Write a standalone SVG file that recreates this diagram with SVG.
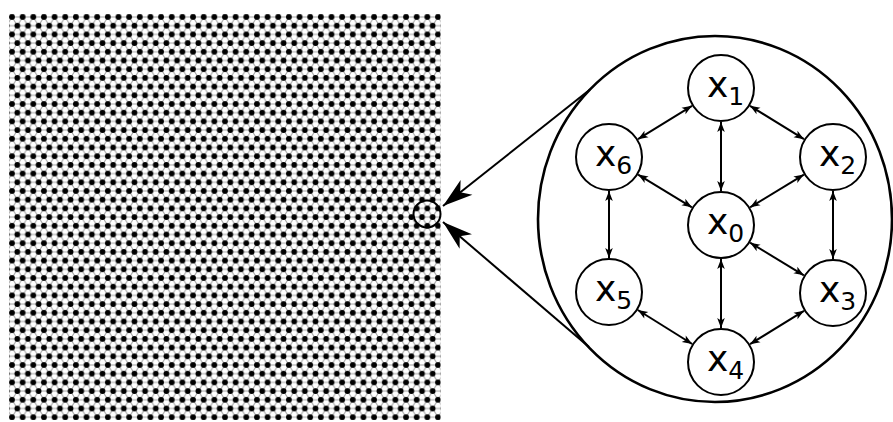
<svg xmlns="http://www.w3.org/2000/svg" width="893" height="422" viewBox="0 0 893 422">
  <defs>
    <pattern id="lat" x="12" y="17" width="10.65" height="17.4" patternUnits="userSpaceOnUse">
      <g stroke="#a0a0a0" stroke-width="1">
        <line x1="0" y1="0" x2="10.65" y2="0"/>
        <line x1="0" y1="8.7" x2="10.65" y2="8.7"/>
        <line x1="0" y1="17.4" x2="10.65" y2="17.4"/>
        <line x1="0" y1="0" x2="5.325" y2="8.7"/>
        <line x1="10.65" y1="0" x2="5.325" y2="8.7"/>
        <line x1="5.325" y1="8.7" x2="0" y2="17.4"/>
        <line x1="5.325" y1="8.7" x2="10.65" y2="17.4"/>
      </g>
      <g fill="#000">
        <circle cx="0" cy="0" r="2.9"/>
        <circle cx="10.65" cy="0" r="2.9"/>
        <circle cx="5.325" cy="8.7" r="2.9"/>
        <circle cx="0" cy="17.4" r="2.9"/>
        <circle cx="10.65" cy="17.4" r="2.9"/>
      </g>
    </pattern>
    <marker id="big" viewBox="-32 -11 34 22" refX="0" refY="0" markerWidth="34" markerHeight="22" markerUnits="userSpaceOnUse" orient="auto">
      <path d="M0,0 L-30,-9.5 L-22,0 L-30,9.5 Z" fill="#000"/>
    </marker>
    <marker id="sm" viewBox="-11 -5 12 10" refX="0" refY="0" markerWidth="12" markerHeight="10" markerUnits="userSpaceOnUse" orient="auto-start-reverse">
      <path d="M0,0 L-10,-3.8 L-7.5,0 L-10,3.8 Z" fill="#000"/>
    </marker>
    <style>
      .node circle { fill: #fff; stroke: #000; stroke-width: 2; }
      .node text { font-family: "DejaVu Sans", sans-serif; font-size: 36px; fill: #000; }
      .node tspan.s { font-size: 25px; }
      .edge { stroke: #000; stroke-width: 2; fill: none; marker-start: url(#sm); marker-end: url(#sm); }
      .zoom { stroke: #000; stroke-width: 2; fill: none; marker-end: url(#big); }
    </style>
  </defs>
  <rect width="893" height="422" fill="#fff"/>

  <g id="lattice">
    <rect x="9" y="14" width="431.6" height="406" fill="url(#lat)"/>
    <circle cx="427" cy="214" r="13.5" fill="none" stroke="#000" stroke-width="2"/>
  </g>

  <g id="magnifier">
    <ellipse cx="715" cy="219" rx="177" ry="183" fill="none" stroke="#000" stroke-width="2.6"/>
  </g>

  <g id="connectors">
    <line class="zoom" x1="590" y1="89.5" x2="443" y2="206"/>
    <line class="zoom" x1="589" y1="347" x2="443" y2="222"/>
    <line class="edge" x1="721" y1="122" x2="721" y2="191"/>
    <line class="edge" x1="721" y1="259" x2="721" y2="328"/>
    <line class="edge" x1="609" y1="191" x2="609" y2="258"/>
    <line class="edge" x1="833" y1="191" x2="833" y2="259"/>
    <line class="edge" x1="692" y1="105.8" x2="638" y2="139.2"/>
    <line class="edge" x1="750" y1="105.8" x2="804" y2="139.2"/>
    <line class="edge" x1="638.1" y1="174.6" x2="691.9" y2="207.3"/>
    <line class="edge" x1="803.9" y1="174.6" x2="750.1" y2="207.3"/>
    <line class="edge" x1="750.1" y1="242.7" x2="803.9" y2="275.3"/>
    <line class="edge" x1="637.8" y1="310" x2="692.2" y2="344"/>
    <line class="edge" x1="804" y1="310.8" x2="750" y2="344.2"/>
  </g>

  <g id="x0" class="node"><circle cx="721" cy="225" r="33"/><text x="707" y="234">x<tspan class="s" dy="8">0</tspan></text></g>
  <g id="x1" class="node"><circle cx="721" cy="88" r="33"/><text x="707" y="97">x<tspan class="s" dy="8">1</tspan></text></g>
  <g id="x2" class="node"><circle cx="833" cy="157" r="33"/><text x="819" y="166">x<tspan class="s" dy="8">2</tspan></text></g>
  <g id="x3" class="node"><circle cx="833" cy="293" r="33"/><text x="819" y="302">x<tspan class="s" dy="8">3</tspan></text></g>
  <g id="x4" class="node"><circle cx="721" cy="362" r="33"/><text x="707" y="371">x<tspan class="s" dy="8">4</tspan></text></g>
  <g id="x5" class="node"><circle cx="609" cy="292" r="33"/><text x="595" y="301">x<tspan class="s" dy="8">5</tspan></text></g>
  <g id="x6" class="node"><circle cx="609" cy="157" r="33"/><text x="595" y="166">x<tspan class="s" dy="8">6</tspan></text></g>
</svg>
